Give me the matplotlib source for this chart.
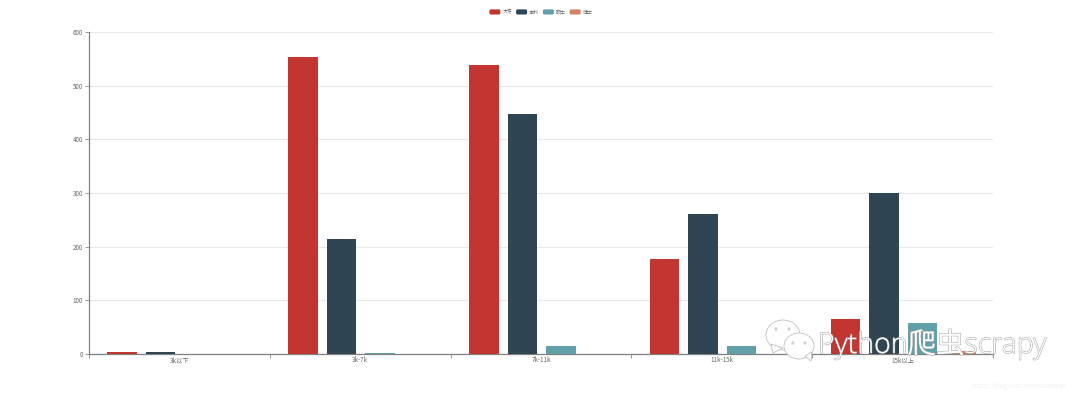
import matplotlib
matplotlib.use("Agg")
import matplotlib.pyplot as plt
import matplotlib.patheffects as pe
from matplotlib.legend_handler import HandlerPatch
from matplotlib.patches import Ellipse, FancyBboxPatch, Patch, Polygon
from matplotlib.transforms import Affine2D
import numpy as np

plt.rcParams['font.family'] = ['Noto Sans CJK SC', 'DejaVu Sans']

categories = ['3k以下', '3k-7k', '7k-11k', '11k-15k', '15k以上']
series_names = ['大专', '本科', '硕士', '博士']
dazhuan = [3, 554, 538, 177, 65]
benke = [4, 215, 447, 261, 300]
shuoshi = [0, 2, 14, 15, 57]
boshi = [0, 0, 0, 0, 5]
colors = ['#c23531', '#2f4554', '#61a0a8', '#d48265']
yticks = [0, 100, 200, 300, 400, 500, 600]


class RoundHandler(HandlerPatch):
    def create_artists(self, legend, orig, xd, yd, w, h, fs, trans):
        p = FancyBboxPatch((-xd, -yd), w, h, boxstyle='round,pad=0,rounding_size=1.0',
                           mutation_aspect=1, fc=orig.get_facecolor(), ec='none', transform=trans)
        return [p]


W, H = 1080, 393
fig = plt.figure(figsize=(W / 100, H / 100), dpi=100)
ax = fig.add_axes([89 / W, 1 - 354 / H, 904 / W, 322 / H])

x = np.arange(len(categories))
width = 0.163
step = 0.213
for i, vals in enumerate([dazhuan, benke, shuoshi, boshi]):
    ax.bar(x + (i - 1.5) * step + 0.003, vals, width, color=colors[i], zorder=3)

ax.set_xlim(-0.5, 4.5)
ax.set_ylim(0, 600)
ax.set_yticks(yticks)
ax.set_xticks(x)
ax.set_xticklabels(categories)
ax.set_xticks(np.arange(-0.5, 5), minor=True)
ax.tick_params(axis='x', which='major', length=0, labelsize=4.5, labelcolor='#666666', pad=1.5)
ax.tick_params(axis='x', which='minor', length=3, width=0.6, color='#888888')
ax.tick_params(axis='y', length=3, width=0.6, color='#888888', labelsize=4.5, labelcolor='#666666', pad=1.5)
ax.grid(axis='y', color='#e8e8e8', lw=0.8, zorder=0)
ax.set_axisbelow(True)
for s in ['top', 'right']:
    ax.spines[s].set_visible(False)
for s in ['left', 'bottom']:
    ax.spines[s].set_color('#808080')
    ax.spines[s].set_linewidth(0.9)

handles = [Patch(color=c, label=n) for c, n in zip(colors, series_names)]
fig.legend(handles=handles, loc='center', bbox_to_anchor=(541 / W, 1 - 12 / H), ncol=4, frameon=False,
           fontsize=3.6, labelcolor='#666666', handlelength=2.2, handleheight=1.2, handletextpad=0.4,
           columnspacing=0.75, borderpad=0, handler_map={Patch: RoundHandler()})

# watermark, drawn in pixels from the top left corner
px = Affine2D().scale(1, -1).translate(0, H)
stroke = dict(fc='white', ec='#b5b5b5', lw=0.5, zorder=10, transform=px)
fig.add_artist(Ellipse((783, 335), 34, 30, **stroke))
fig.add_artist(Polygon([(771, 344), (773, 353), (783, 348)], closed=True, **stroke))
fig.add_artist(Ellipse((799, 346), 30, 26, **stroke))
fig.add_artist(Polygon([(805, 356), (811, 361), (812, 352)], closed=True, **stroke))
for ex, ey in [(776, 329), (789, 329), (793, 343), (805, 343)]:
    fig.add_artist(Ellipse((ex, ey), 3, 3.5, fc='#d0d0d0', ec='none', zorder=11, transform=px))

fig.text(818 / W, 1 - 353 / H, 'Python爬虫scrapy', fontsize=20.5, color='white', zorder=12,
         family=['Open Sans', 'Noto Sans CJK SC'], fontweight='light',
         path_effects=[pe.withStroke(linewidth=0.7, foreground='#a0a0a0')])
fig.text(1067 / W, 1 - 386 / H, 'https://blog.csdn.net/csdnnews', fontsize=4.6, color='#f0f0f0', ha='right', va='center')

fig.savefig('out.png', dpi=100)
